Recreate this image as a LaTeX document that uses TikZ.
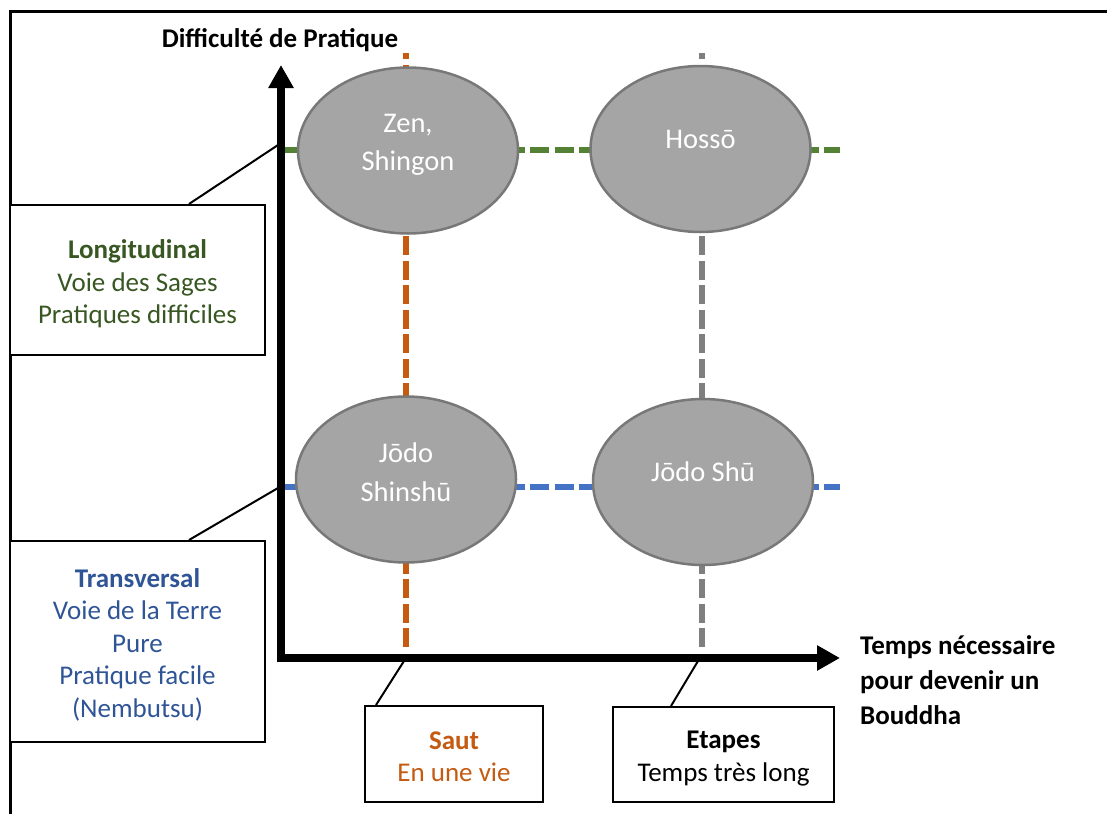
\documentclass[tikz,border=0pt]{standalone}
\usepackage{fontspec}
\setmainfont{Carlito}
\usetikzlibrary{shapes.geometric,arrows.meta,calc}
\definecolor{lgreen}{HTML}{548235}
\definecolor{dgreen}{HTML}{385723}
\definecolor{lblue}{HTML}{4472C4}
\definecolor{dblue}{HTML}{2F5597}
\definecolor{orng}{HTML}{C55A11}
\definecolor{lgray}{HTML}{7F7F7F}
\definecolor{efill}{HTML}{A5A5A5}
\definecolor{eborder}{HTML}{787878}
\begin{document}
\begin{tikzpicture}[x=1pt,y=-1pt,
  school/.style={ellipse, draw=eborder, line width=2.5pt, fill=efill, minimum width=220pt, minimum height=166pt, inner sep=0pt},
  schooltext/.style={text=white, align=center, inner sep=0pt, font=\fontsize{28.5}{38.5}\selectfont},
  dashline/.style={line width=6pt, dash pattern=on 19pt off 5.5pt},
  calloutbox/.style={draw=black, line width=2pt, fill=white, inner sep=0pt},
  callouttext/.style={align=center, inner sep=0pt, font=\fontsize{27}{32.5}\selectfont},
  leader/.style={line width=2pt},
  axis/.style={line width=8pt, {Triangle[length=23pt,width=24pt]}-{Triangle[length=23pt,width=24pt]}},
  axislabel/.style={font=\bfseries\fontsize{27}{35}\selectfont, inner sep=0pt}
]
\useasboundingbox (0,0) rectangle (1107,814);
% frame
\coordinate (fBL) at (10,814);
\coordinate (fTL) at (10,11.5);
\coordinate (fTR) at (1107,11.5);
\draw[line width=3pt] (fBL) -- (fTL) -- (fTR);
% dashed guide lines
\coordinate (oBot) at (406,647);
\coordinate (oTop) at (406,53);
\coordinate (gBot) at (702,647);
\coordinate (gTop) at (702,53);
\coordinate (grL) at (285,150);
\coordinate (grR) at (840,150);
\coordinate (blL) at (285,487);
\coordinate (blR) at (840,487);
\draw[dashline, draw=orng] (oBot) -- (oTop);
\draw[dashline, draw=lgray] (gBot) -- (gTop);
\draw[dashline, draw=lgreen] (grL) -- (grR);
\draw[dashline, draw=lblue] (blL) -- (blR);
% schools
\node[school] (zen) at (408,150.5) {};
\node[school] (hosso) at (700.5,149) {};
\node[school] (jsh) at (406,479.5) {};
\node[school] (js) at (703,482) {};
\node[schooltext] (zent) at ($(zen.center)+(0,-5.5)$) {Zen,\\Shingon};
\node[schooltext] (hossot) at ($(hosso.center)+(0,-10)$) {Hossō};
\node[schooltext] (jsht) at ($(jsh.center)+(0,-7.5)$) {Jōdo\\Shinshū};
\node[schooltext] (jst) at ($(js.center)+(0,-10)$) {Jōdo Shū};
% leader tips
\coordinate (lonTip) at (278,145);
\coordinate (traTip) at (278,488);
\coordinate (sautTip) at (404,661);
\coordinate (etaTip) at (698,661);
% axes
\coordinate (yTip) at (281,65);
\coordinate (corner) at (281,658);
\coordinate (xTip) at (840,658);
\draw[axis] (yTip) -- (corner) -- (xTip);
\node[axislabel] (ylab) at (280,40) {Difficulté de Pratique};
\node[axislabel, anchor=west, align=left] (xlab) at (860,680) {Temps nécessaire\\pour devenir un\\Bouddha};
% callouts
\node[calloutbox, minimum width=255pt, minimum height=150pt] (lon) at (137.5,280) {};
\node[callouttext, text=dgreen] (lont) at ($(lon.center)+(0,4)$) {\textbf{Longitudinal}\\Voie des Sages\\Pratiques difficiles};
\node[calloutbox, minimum width=255pt, minimum height=201pt] (tra) at (137.5,641.5) {};
\node[callouttext, text=dblue] (trat) at ($(tra.center)+(0,3)$) {\textbf{Transversal}\\Voie de la Terre\\Pure\\Pratique facile\\(Nembutsu)};
\node[calloutbox, minimum width=178pt, minimum height=96pt] (saut) at (454,754) {};
\node[callouttext, text=orng] (sautt) at ($(saut.center)+(0,2.5)$) {\textbf{Saut}\\En une vie};
\node[calloutbox, minimum width=221pt, minimum height=95pt] (eta) at (723.5,754.5) {};
\node[callouttext, text=black] (etat) at ($(eta.center)+(0,4)$) {\textbf{Etapes}\\Temps très long};
\draw[leader] ($(lon.north west)+(180,0)$) -- (lonTip);
\draw[leader] ($(tra.north west)+(180,0)$) -- (traTip);
\draw[leader] ($(saut.north west)+(12,0)$) -- (sautTip);
\draw[leader] ($(eta.north west)+(59,0)$) -- (etaTip);
\end{tikzpicture}
\end{document}
